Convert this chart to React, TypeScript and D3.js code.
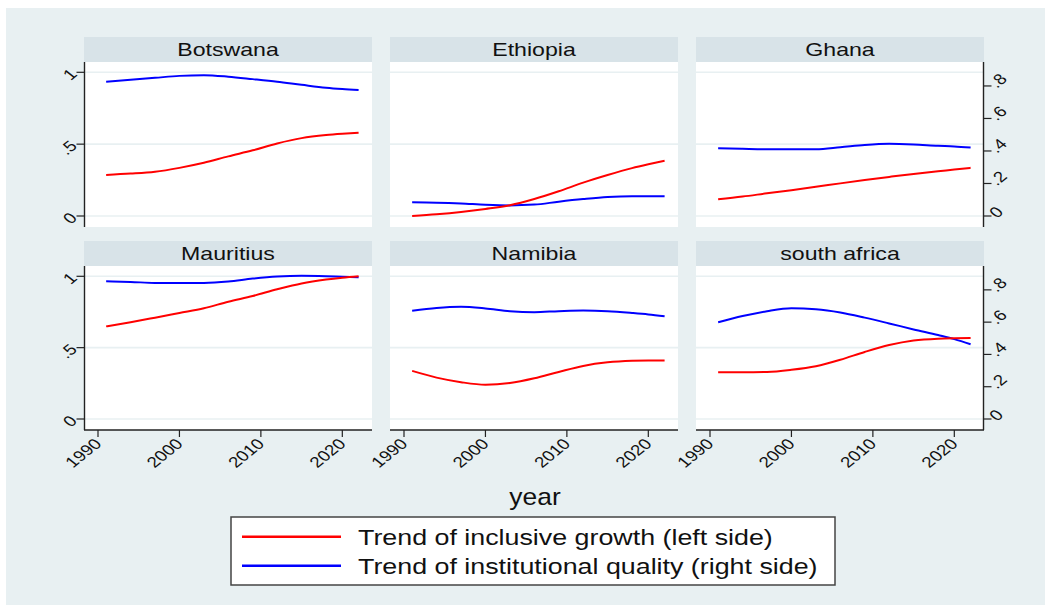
import React from "react";
import * as d3 from "d3";

// Panels (country facets), in reading order
const countries = ["Botswana", "Ethiopia", "Ghana", "Mauritius", "Namibia", "south africa"];

// Years at which the smoothed trends are sampled
const years = [1991, 1994, 1997, 2000, 2003, 2006, 2009, 2012, 2015, 2018, 2020, 2022];

// Trend of inclusive growth (left axis)
const growthBotswana = [0.286, 0.295, 0.308, 0.335, 0.37, 0.415, 0.457, 0.505, 0.542, 0.563, 0.572, 0.579];
const growthEthiopia = [0.0, 0.012, 0.028, 0.049, 0.075, 0.118, 0.172, 0.232, 0.285, 0.333, 0.36, 0.385];
const growthGhana = [0.116, 0.135, 0.158, 0.18, 0.203, 0.227, 0.25, 0.272, 0.293, 0.312, 0.323, 0.335];
const growthMauritius = [0.649, 0.678, 0.71, 0.743, 0.776, 0.822, 0.862, 0.909, 0.95, 0.977, 0.99, 1.0];
const growthNamibia = [0.337, 0.29, 0.258, 0.24, 0.252, 0.285, 0.33, 0.372, 0.397, 0.408, 0.41, 0.41];
const growthSouthAfrica = [0.328, 0.328, 0.33, 0.345, 0.37, 0.415, 0.47, 0.518, 0.55, 0.563, 0.566, 0.567];

// Trend of institutional quality (right axis)
const qualityBotswana = [0.826, 0.838, 0.85, 0.862, 0.866, 0.857, 0.842, 0.826, 0.807, 0.789, 0.781, 0.775];
const qualityEthiopia = [0.084, 0.082, 0.077, 0.069, 0.065, 0.07, 0.088, 0.104, 0.117, 0.122, 0.122, 0.121];
const qualityGhana = [0.417, 0.413, 0.41, 0.41, 0.411, 0.423, 0.437, 0.444, 0.44, 0.432, 0.428, 0.421];
const qualityMauritius = [0.853, 0.849, 0.843, 0.842, 0.843, 0.852, 0.87, 0.883, 0.888, 0.885, 0.881, 0.878];
const qualityNamibia = [0.671, 0.688, 0.695, 0.685, 0.668, 0.662, 0.668, 0.672, 0.668, 0.657, 0.648, 0.636];
const qualitySouthAfrica = [0.599, 0.638, 0.668, 0.686, 0.68, 0.66, 0.628, 0.592, 0.555, 0.52, 0.495, 0.463];

const growthSeries = [growthBotswana, growthEthiopia, growthGhana, growthMauritius, growthNamibia, growthSouthAfrica];
const qualitySeries = [qualityBotswana, qualityEthiopia, qualityGhana, qualityMauritius, qualityNamibia, qualitySouthAfrica];

// Axis ticks
const leftTicks = [0, 0.5, 1];
const leftTickLabels = ["0", ".5", "1"];
const rightTicks = [0, 0.2, 0.4, 0.6, 0.8];
const rightTickLabels = ["0", ".2", ".4", ".6", ".8"];
const yearTicks = [1990, 2000, 2010, 2020];
const yearTickLabels = ["1990", "2000", "2010", "2020"];

const xTitle = "year";
const legendLabels = ["Trend of inclusive growth (left side)", "Trend of institutional quality (right side)"];

// Layout
const W = 1051;
const H = 610;
const colLeft = [84, 390, 696];
const panelW = 288;
const headerTop = [37, 241];
const headerH = 25;
const plotTop = [62, 266];
const plotBottom = [227, 430];

const BG = "#e8f0f2";
const HEADER = "#d8e3e8";
const GRID = "#e8f0f2";
const RED = "#ff0000";
const BLUE = "#0000ff";
const AXIS = "#222";
const FONT = "'Liberation Sans', Arial, Helvetica, sans-serif";

const TICK_FS = 15;
const TICK_SX = 1.25;
const TITLE_FS = 18.5;
const TITLE_SX = 1.25;
const LEGEND_FS = 22;
const LEGEND_SX = 1.22;
const XTITLE_FS = 24;
const XTITLE_SX = 1.1;

const RIGHT_MAX = 0.884; // right-axis value aligned with left-axis 1

function Panel({ idx }: { idx: number }) {
  const col = idx % 3;
  const row = Math.floor(idx / 3);
  const left = colLeft[col];
  const top = plotTop[row];
  const bottom = plotBottom[row];

  const x = d3.scaleLinear().domain([1990, 2022]).range([left + 14, left + 274.6]);
  const yL = d3.scaleLinear().domain([0, 1]).range([bottom - 11, top + 10.3]);
  const yR = d3.scaleLinear().domain([0, RIGHT_MAX]).range([bottom - 11, top + 10.3]);

  const lineL = d3
    .line<number>()
    .x((_, i) => x(years[i]))
    .y((d) => yL(d))
    .curve(d3.curveMonotoneX);
  const lineR = d3
    .line<number>()
    .x((_, i) => x(years[i]))
    .y((d) => yR(d))
    .curve(d3.curveMonotoneX);

  const axisLeftX = left + 0.5;
  const axisRightX = left + panelW - 0.5;
  const axisBottomY = bottom;

  return (
    <g>
      {/* strip title */}
      <rect x={left} y={headerTop[row]} width={panelW} height={headerH} fill={HEADER} />
      <text
        transform={`translate(${left + panelW / 2},${headerTop[row] + headerH - 6}) scale(${TITLE_SX},1)`}
        textAnchor="middle"
        fontSize={TITLE_FS}
        fill="#111"
      >
        {countries[idx]}
      </text>

      {/* plot area */}
      <rect x={left} y={top} width={panelW} height={bottom - top} fill="#fff" />
      {leftTicks.map((t) => (
        <line key={t} x1={left} x2={left + panelW} y1={yL(t)} y2={yL(t)} stroke={GRID} strokeWidth={1.6} />
      ))}

      <path d={lineR(qualitySeries[idx]) || ""} fill="none" stroke={BLUE} strokeWidth={2} />
      <path d={lineL(growthSeries[idx]) || ""} fill="none" stroke={RED} strokeWidth={2} />

      {/* left axis */}
      {col === 0 && (
        <g>
          <line x1={axisLeftX} x2={axisLeftX} y1={top} y2={bottom} stroke={AXIS} strokeWidth={1.4} />
          {leftTicks.map((t, i) => (
            <g key={t}>
              <line x1={axisLeftX - 8} x2={axisLeftX} y1={yL(t)} y2={yL(t)} stroke={AXIS} strokeWidth={1.2} />
              <text
                transform={`translate(${axisLeftX - 10},${yL(t)}) scale(${TICK_SX},1) rotate(-45)`}
                textAnchor="end"
                dominantBaseline="middle"
                fontSize={TICK_FS}
                fill="#111"
              >
                {leftTickLabels[i]}
              </text>
            </g>
          ))}
        </g>
      )}

      {/* right axis */}
      {col === 2 && (
        <g>
          <line x1={axisRightX} x2={axisRightX} y1={top} y2={bottom} stroke={AXIS} strokeWidth={1.4} />
          {rightTicks.map((t, i) => (
            <g key={t}>
              <line x1={axisRightX} x2={axisRightX + 8} y1={yR(t)} y2={yR(t)} stroke={AXIS} strokeWidth={1.2} />
              <text
                transform={`translate(${axisRightX + 10},${yR(t)}) scale(${TICK_SX},1) rotate(-45)`}
                textAnchor="start"
                dominantBaseline="middle"
                fontSize={TICK_FS}
                fill="#111"
              >
                {rightTickLabels[i]}
              </text>
            </g>
          ))}
        </g>
      )}

      {/* year axis on the bottom row */}
      {row === 1 && (
        <g>
          <line x1={left} x2={left + panelW} y1={axisBottomY} y2={axisBottomY} stroke={AXIS} strokeWidth={1.4} />
          {yearTicks.map((t, i) => (
            <g key={t}>
              <line x1={x(t)} x2={x(t)} y1={axisBottomY} y2={axisBottomY + 7} stroke={AXIS} strokeWidth={1.2} />
              <text
                transform={`translate(${x(t) + 1},${axisBottomY + 12}) scale(${TICK_SX},1) rotate(-45)`}
                textAnchor="end"
                dominantBaseline="middle"
                fontSize={TICK_FS}
                fill="#111"
              >
                {yearTickLabels[i]}
              </text>
            </g>
          ))}
        </g>
      )}
    </g>
  );
}

export default function App() {
  const legendX = 231;
  const legendY = 517;
  const legendW = 604;
  const legendH = 68;
  const legendColors = [RED, BLUE];
  const legendRowY = [536.7, 565.7];

  return (
    <div style={{ position: "absolute", left: 0, top: 0 }}>
      <svg width={W} height={H} style={{ display: "block", fontFamily: FONT }}>
        <rect x={0} y={0} width={W} height={H} fill="#fff" />
        <rect x={6} y={8} width={1039} height={597} fill={BG} />

        {countries.map((_, i) => (
          <Panel key={i} idx={i} />
        ))}

        <text
          transform={`translate(535,505) scale(${XTITLE_SX},1)`}
          textAnchor="middle"
          fontSize={XTITLE_FS}
          fill="#111"
        >
          {xTitle}
        </text>

        {/* legend */}
        <rect x={legendX} y={legendY} width={legendW} height={legendH} fill="#fff" stroke="#444" strokeWidth={1.5} />
        {legendLabels.map((lab, i) => (
          <g key={lab}>
            <line x1={242} x2={341} y1={legendRowY[i]} y2={legendRowY[i]} stroke={legendColors[i]} strokeWidth={2.6} />
            <text
              transform={`translate(358,${legendRowY[i] + 8.3}) scale(${LEGEND_SX},1)`}
              fontSize={LEGEND_FS}
              fill="#111"
            >
              {lab}
            </text>
          </g>
        ))}
      </svg>
    </div>
  );
}
